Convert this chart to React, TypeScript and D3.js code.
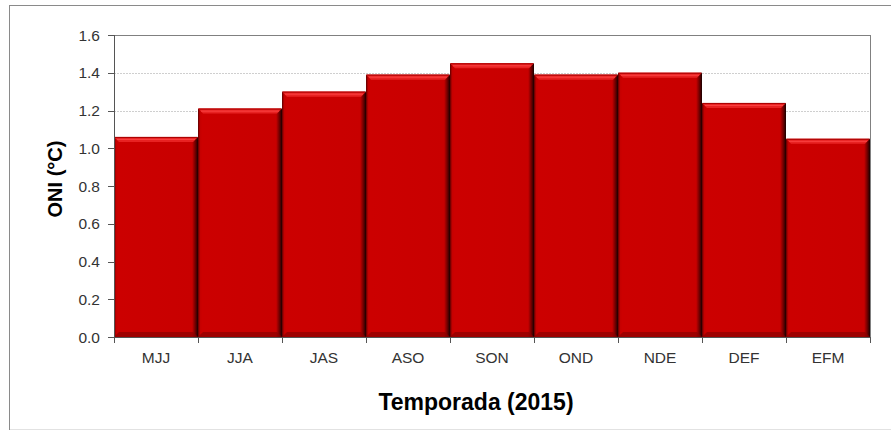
import { useEffect, useRef } from "react";
import * as d3 from "d3";

const seasons = ["MJJ", "JJA", "JAS", "ASO", "SON", "OND", "NDE", "DEF", "EFM"];
const oni = [1.06, 1.21, 1.3, 1.39, 1.45, 1.39, 1.4, 1.24, 1.05];
const yTicks = [0, 0.2, 0.4, 0.6, 0.8, 1.0, 1.2, 1.4, 1.6];

const W = 891;
const H = 431;
const margin = { top: 35, right: 21, bottom: 94, left: 114 };

export default function App() {
  const ref = useRef<SVGSVGElement>(null);

  useEffect(() => {
    const svg = d3.select(ref.current);
    svg.selectAll("*").remove();

    const iw = W - margin.left - margin.right;
    const ih = H - margin.top - margin.bottom;
    const font = "Liberation Sans, Arial, sans-serif";

    const x = d3.scaleBand<string>().domain(seasons).range([0, iw]).padding(0);
    const y = d3.scaleLinear().domain([0, 1.6]).range([ih, 0]);

    const defs = svg.append("defs");
    const side = defs
      .append("linearGradient")
      .attr("id", "side")
      .attr("x1", "0")
      .attr("x2", "1")
      .attr("y1", "0")
      .attr("y2", "0");
    [
      [0, "#5a0000"],
      [0.025, "#c40000"],
      [0.05, "#cc0000"],
      [0.93, "#c80000"],
      [0.97, "#6a0000"],
      [1, "#1a0000"],
    ].forEach(([o, c]) => side.append("stop").attr("offset", o as number).attr("stop-color", c as string));

    // outer frame
    svg.append("rect").attr("x", 0).attr("y", 0).attr("width", W).attr("height", H).attr("fill", "#fff");
    svg.append("line").attr("x1", 9.5).attr("x2", 9.5).attr("y1", 5).attr("y2", 430).attr("stroke", "#8a8a8a");
    svg.append("line").attr("x1", 9).attr("x2", W).attr("y1", 5.5).attr("y2", 5.5).attr("stroke", "#8a8a8a");
    svg.append("line").attr("x1", 10).attr("x2", W).attr("y1", 429.5).attr("y2", 429.5).attr("stroke", "#e2e2e2");

    const g = svg.append("g").attr("transform", `translate(${margin.left},${margin.top})`);

    // gridlines
    g.selectAll("line.grid")
      .data(yTicks.slice(1, -1))
      .join("line")
      .attr("class", "grid")
      .attr("x1", 0)
      .attr("x2", iw)
      .attr("y1", (d) => Math.round(y(d)) + 0.5)
      .attr("y2", (d) => Math.round(y(d)) + 0.5)
      .attr("stroke", "#cfcfcf")
      .attr("stroke-dasharray", "2,1");

    // plot border top/right
    g.append("line").attr("x1", 0).attr("x2", iw).attr("y1", 0.5).attr("y2", 0.5).attr("stroke", "#808080");
    g.append("line").attr("x1", iw + 0.5).attr("x2", iw + 0.5).attr("y1", 0).attr("y2", ih).attr("stroke", "#808080");

    // bars
    const bars = g
      .selectAll("g.bar")
      .data(seasons.map((s, i) => ({ s, v: oni[i] })))
      .join("g")
      .attr("class", "bar")
      .attr("transform", (d) => `translate(${x(d.s)},${y(d.v)})`);

    const bw = x.bandwidth();
    bars
      .append("rect")
      .attr("width", bw)
      .attr("height", (d) => ih - y(d.v))
      .attr("fill", "url(#side)");

    // top bevel
    bars
      .append("path")
      .attr("d", `M0,0 L${bw},0 L${bw - 5},5 L5,5 Z`)
      .attr("fill", "#e82222");
    bars
      .append("line")
      .attr("x1", 1)
      .attr("x2", bw - 1)
      .attr("y1", 0.5)
      .attr("y2", 0.5)
      .attr("stroke", "#a80000");
    bars
      .append("line")
      .attr("x1", 3)
      .attr("x2", bw - 3)
      .attr("y1", 2.5)
      .attr("y2", 2.5)
      .attr("stroke", "#ff4a4a")
      .attr("stroke-opacity", 0.8);

    // bottom bevel
    bars
      .append("path")
      .attr("d", (d) => {
        const h = ih - y(d.v);
        return `M5,${h - 5} L${bw - 5},${h - 5} L${bw},${h} L0,${h} Z`;
      })
      .attr("fill", "#8a0000")
      .attr("opacity", 0.7);

    // y axis
    g.append("line").attr("x1", 0.5).attr("x2", 0.5).attr("y1", 0).attr("y2", ih).attr("stroke", "#555");
    g.selectAll("line.ytick")
      .data(yTicks)
      .join("line")
      .attr("class", "ytick")
      .attr("x1", -6)
      .attr("x2", 0)
      .attr("y1", (d) => Math.round(y(d)) + 0.5)
      .attr("y2", (d) => Math.round(y(d)) + 0.5)
      .attr("stroke", "#555");
    g.selectAll("text.ylab")
      .data(yTicks)
      .join("text")
      .attr("class", "ylab")
      .attr("x", -14)
      .attr("y", (d) => y(d))
      .attr("dy", "0.36em")
      .attr("text-anchor", "end")
      .attr("font-family", font)
      .attr("font-size", 15.5)
      .attr("fill", "#333")
      .text((d) => d.toFixed(1));

    // x axis
    g.append("line").attr("x1", 0).attr("x2", iw + 1).attr("y1", ih + 0.5).attr("y2", ih + 0.5).attr("stroke", "#555");
    const bounds = [...seasons.map((s) => x(s) as number), iw];
    g.selectAll("line.xtick")
      .data(bounds)
      .join("line")
      .attr("class", "xtick")
      .attr("x1", (d) => Math.round(d) + 0.5)
      .attr("x2", (d) => Math.round(d) + 0.5)
      .attr("y1", ih)
      .attr("y2", ih + 6)
      .attr("stroke", "#555");
    g.selectAll("text.xlab")
      .data(seasons)
      .join("text")
      .attr("class", "xlab")
      .attr("x", (d) => (x(d) as number) + bw / 2)
      .attr("y", ih + 26)
      .attr("text-anchor", "middle")
      .attr("font-family", font)
      .attr("font-size", 15.5)
      .attr("fill", "#333")
      .text((d) => d);

    // titles
    svg
      .append("text")
      .attr("transform", `translate(62,179) rotate(-90)`)
      .attr("text-anchor", "middle")
      .attr("font-family", font)
      .attr("font-size", 20)
      .attr("font-weight", "bold")
      .attr("fill", "#000")
      .text("ONI (°C)");
    svg
      .append("text")
      .attr("x", 476)
      .attr("y", 410)
      .attr("text-anchor", "middle")
      .attr("font-family", font)
      .attr("font-size", 23)
      .attr("font-weight", "bold")
      .attr("fill", "#000")
      .text("Temporada (2015)");
  }, []);

  return (
    <div style={{ position: "fixed", left: 0, top: 0 }}>
      <svg ref={ref} width={W} height={H} style={{ display: "block" }} />
    </div>
  );
}
